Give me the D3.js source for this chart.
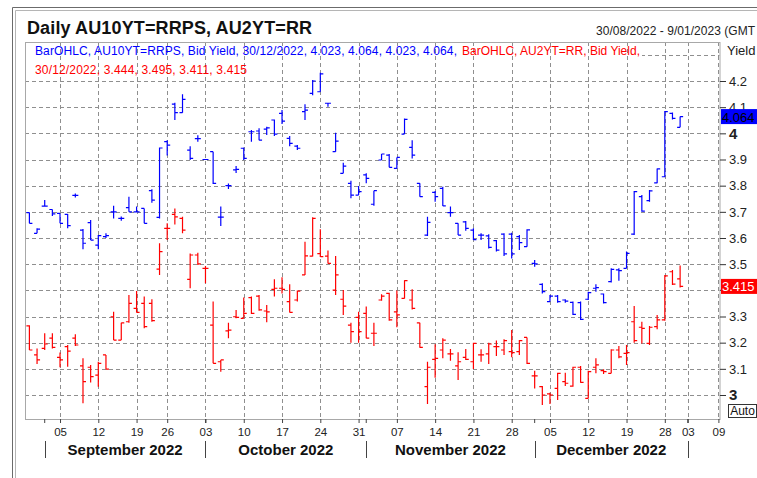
<!DOCTYPE html>
<html>
<head>
<meta charset="utf-8">
<script src="https://cdn.jsdelivr.net/npm/d3@7"></script>
<style>
  body { margin: 0; background: #fff; }
  svg { display: block; font-family: Arial, "Liberation Sans", sans-serif; }
</style>
</head>
<body>
<svg id="chart" width="757" height="478"></svg>
<script>
// trading calendar (weekdays, minus exchange holidays)
var firstDay = "2022-08-30";
var lastDay = "2023-01-09";
var holidays = ["2022-09-22", "2022-12-26", "2022-12-27", "2023-01-02"];

// y axis values (3.4 sits under the last-value badge, so it has no label)
var gridValues = [3.0, 3.1, 3.2, 3.3, 3.4, 3.5, 3.6, 3.7, 3.8, 3.9, 4.0, 4.1, 4.2, 4.3];
var labelValues = [3.0, 3.1, 3.2, 3.3, 3.5, 3.6, 3.7, 3.8, 3.9, 4.0, 4.1, 4.2];

// AU10YT=RRPS daily bid yield, [open, high, low, close]
var au10yt = [
  [3.697, 3.697, 3.656, 3.656], [3.618, 3.637, 3.618, 3.634], [3.722, 3.745, 3.720, 3.722], [3.709, 3.709, 3.684, 3.692],
  [3.694, 3.694, 3.656, 3.656], [3.690, 3.692, 3.637, 3.647], [3.763, 3.770, 3.755, 3.763], [3.630, 3.634, 3.557, 3.580],
  [3.659, 3.669, 3.592, 3.592], [3.573, 3.611, 3.557, 3.609], [3.605, 3.618, 3.600, 3.609], [3.700, 3.723, 3.675, 3.700],
  [3.675, 3.682, 3.666, 3.675], [3.716, 3.758, 3.700, 3.700], [3.700, 3.720, 3.697, 3.700], [3.713, 3.713, 3.656, 3.656],
  [3.781, 3.786, 3.735, 3.745], [3.679, 3.946, 3.675, 3.944], [3.968, 3.974, 3.915, 3.955], [4.112, 4.117, 4.051, 4.079],
  [4.079, 4.149, 4.079, 4.130], [3.936, 3.951, 3.898, 3.904], [3.980, 3.993, 3.968, 3.980], [3.900, 3.900, 3.898, 3.900],
  [3.930, 3.930, 3.806, 3.809], [3.680, 3.720, 3.646, 3.680], [3.800, 3.808, 3.787, 3.800], [3.860, 3.875, 3.848, 3.862],
  [3.943, 3.946, 3.898, 3.904], [4.006, 4.013, 3.968, 4.006], [4.009, 4.019, 3.974, 3.974], [4.016, 4.025, 3.994, 4.021],
  [4.051, 4.053, 3.990, 3.997], [4.076, 4.089, 4.036, 4.047], [3.981, 3.990, 3.951, 3.962], [3.951, 3.955, 3.936, 3.943],
  [4.083, 4.111, 4.051, 4.089], [4.153, 4.204, 4.146, 4.200], [4.159, 4.232, 4.159, 4.227], [4.115, 4.117, 4.102, 4.115],
  [3.930, 4.002, 3.930, 3.970], [3.847, 3.888, 3.847, 3.875], [3.809, 3.819, 3.752, 3.764], [3.764, 3.799, 3.764, 3.777],
  [3.841, 3.847, 3.809, 3.828], [3.729, 3.781, 3.723, 3.781], [3.898, 3.921, 3.898, 3.921], [3.917, 3.921, 3.870, 3.870],
  [3.866, 3.908, 3.866, 3.908], [3.997, 4.057, 3.997, 4.053], [3.946, 3.974, 3.904, 3.917], [3.809, 3.809, 3.758, 3.758],
  [3.611, 3.681, 3.608, 3.660], [3.774, 3.780, 3.739, 3.758], [3.790, 3.796, 3.722, 3.723], [3.697, 3.720, 3.681, 3.697],
  [3.656, 3.656, 3.611, 3.611], [3.662, 3.665, 3.628, 3.637], [3.630, 3.637, 3.592, 3.594], [3.611, 3.618, 3.592, 3.611],
  [3.608, 3.614, 3.560, 3.564], [3.590, 3.592, 3.548, 3.554], [3.615, 3.618, 3.531, 3.539], [3.615, 3.620, 3.522, 3.539],
  [3.605, 3.611, 3.554, 3.582], [3.567, 3.633, 3.567, 3.631], [3.503, 3.516, 3.490, 3.501], [3.423, 3.427, 3.388, 3.395],
  [3.357, 3.382, 3.357, 3.378], [3.378, 3.382, 3.353, 3.357], [3.363, 3.366, 3.353, 3.359], [3.354, 3.357, 3.306, 3.308],
  [3.353, 3.357, 3.287, 3.289], [3.366, 3.395, 3.363, 3.391], [3.408, 3.423, 3.395, 3.410], [3.386, 3.388, 3.350, 3.353],
  [3.433, 3.484, 3.430, 3.480], [3.478, 3.484, 3.437, 3.475], [3.484, 3.548, 3.484, 3.541], [3.615, 3.780, 3.611, 3.777],
  [3.758, 3.764, 3.700, 3.703], [3.743, 3.783, 3.739, 3.780], [3.811, 3.866, 3.809, 3.864], [3.834, 4.085, 3.832, 4.083],
  [4.076, 4.080, 4.053, 4.057], [4.023, 4.064, 4.023, 4.064]
];

// AU2YT=RR daily bid yield, [open, high, low, close]
var au2yt = [
  [3.264, 3.267, 3.172, 3.172], [3.153, 3.178, 3.118, 3.134], [3.178, 3.236, 3.172, 3.195], [3.217, 3.236, 3.178, 3.182],
  [3.144, 3.162, 3.106, 3.134], [3.185, 3.191, 3.108, 3.168], [3.217, 3.232, 3.187, 3.191], [3.111, 3.140, 2.968, 3.051],
  [3.106, 3.115, 3.048, 3.070], [3.076, 3.127, 3.032, 3.121], [3.153, 3.153, 3.098, 3.099], [3.299, 3.318, 3.210, 3.210],
  [3.210, 3.276, 3.210, 3.276], [3.280, 3.382, 3.276, 3.350], [3.331, 3.397, 3.315, 3.316], [3.350, 3.376, 3.255, 3.261],
  [3.350, 3.366, 3.280, 3.284], [3.481, 3.580, 3.459, 3.548], [3.637, 3.656, 3.592, 3.637], [3.690, 3.713, 3.652, 3.681],
  [3.675, 3.681, 3.618, 3.630], [3.442, 3.541, 3.408, 3.535], [3.535, 3.544, 3.497, 3.501], [3.484, 3.493, 3.427, 3.484],
  [3.267, 3.357, 3.121, 3.121], [3.127, 3.134, 3.089, 3.134], [3.245, 3.276, 3.217, 3.248], [3.299, 3.325, 3.293, 3.297],
  [3.293, 3.373, 3.293, 3.312], [3.372, 3.376, 3.310, 3.312], [3.378, 3.382, 3.322, 3.325], [3.321, 3.344, 3.278, 3.318],
  [3.404, 3.442, 3.376, 3.408], [3.408, 3.450, 3.388, 3.404], [3.357, 3.423, 3.315, 3.316], [3.363, 3.399, 3.357, 3.397],
  [3.459, 3.586, 3.459, 3.532], [3.531, 3.679, 3.529, 3.675], [3.540, 3.633, 3.527, 3.529], [3.531, 3.552, 3.503, 3.503],
  [3.401, 3.531, 3.382, 3.459], [3.366, 3.401, 3.306, 3.340], [3.267, 3.276, 3.200, 3.242], [3.297, 3.318, 3.200, 3.242],
  [3.312, 3.338, 3.217, 3.217], [3.236, 3.276, 3.187, 3.236], [3.363, 3.385, 3.360, 3.378], [3.388, 3.391, 3.284, 3.287],
  [3.318, 3.399, 3.259, 3.306], [3.369, 3.439, 3.369, 3.437], [3.363, 3.404, 3.327, 3.331], [3.276, 3.276, 3.181, 3.182],
  [3.032, 3.127, 2.966, 3.106], [3.136, 3.194, 3.066, 3.140], [3.172, 3.217, 3.140, 3.210], [3.157, 3.176, 3.131, 3.157],
  [3.111, 3.163, 3.057, 3.127], [3.144, 3.176, 3.134, 3.136], [3.127, 3.200, 3.099, 3.197], [3.153, 3.175, 3.127, 3.153],
  [3.157, 3.200, 3.118, 3.195], [3.185, 3.208, 3.149, 3.185], [3.172, 3.213, 3.153, 3.208], [3.166, 3.248, 3.144, 3.162],
  [3.166, 3.210, 3.153, 3.208], [3.220, 3.220, 3.118, 3.121], [3.073, 3.093, 3.025, 3.073], [3.032, 3.034, 2.962, 3.000],
  [3.004, 3.009, 2.966, 3.000], [3.025, 3.085, 2.981, 3.083], [3.051, 3.085, 3.034, 3.045], [3.034, 3.108, 3.032, 3.106],
  [3.106, 3.111, 3.047, 3.048], [2.987, 3.093, 2.987, 3.089], [3.106, 3.140, 3.083, 3.115], [3.093, 3.098, 3.080, 3.089],
  [3.083, 3.175, 3.083, 3.172], [3.172, 3.187, 3.140, 3.146], [3.159, 3.191, 3.115, 3.162], [3.280, 3.340, 3.200, 3.208],
  [3.259, 3.280, 3.197, 3.255], [3.197, 3.264, 3.191, 3.259], [3.261, 3.306, 3.251, 3.287], [3.287, 3.459, 3.284, 3.455],
  [3.471, 3.478, 3.420, 3.424], [3.444, 3.495, 3.411, 3.415]
];

var blue = "#0000ff";
var red = "#ff0000";
var gridColor = "#8f8f8f";

var plotLeft = 25, plotRight = 719.5, plotTop = 42, plotBottom = 419;

var svg = d3.select("#chart");

var parseDay = d3.timeParse("%Y-%m-%d");
var fmtDay = d3.timeFormat("%Y-%m-%d");
var days = d3.timeDay.range(parseDay(firstDay), d3.timeDay.offset(parseDay(lastDay), 1))
  .filter(d => d.getDay() !== 0 && d.getDay() !== 6 && holidays.indexOf(fmtDay(d)) < 0);
var keys = days.map(fmtDay);

var x = d3.scalePoint().domain(keys).range([29.4, 718.4]);
var y = d3.scaleLinear().domain([3.0, 4.2]).range([395, 81]);

// first trading day of each week / month
var weekStarts = days.filter((d, i) => i > 0 && +d3.timeMonday.floor(d) !== +d3.timeMonday.floor(days[i - 1]));
var monthStarts = days.filter((d, i) => i > 0 && d.getMonth() !== days[i - 1].getMonth());

// outer frame
svg.append("rect").attr("width", 757).attr("height", 478).attr("fill", "#fff");
svg.append("path").attr("d", "M12.5,478V7.5H757").attr("fill", "none").attr("stroke", "#6b6b6b");
svg.append("path").attr("d", "M15.5,478V10.5H757").attr("fill", "none").attr("stroke", "#b5b5b5");

svg.append("text")
  .attr("x", 27).attr("y", 33.5)
  .attr("font-size", 18).attr("font-weight", "bold").attr("fill", "#111")
  .attr("textLength", 285).attr("lengthAdjust", "spacing")
  .text("Daily AU10YT=RRPS, AU2YT=RR");

// date range, as far as it is visible in the window
svg.append("text")
  .attr("x", 596).attr("y", 35)
  .attr("font-size", 12).attr("fill", "#222")
  .attr("textLength", 159).attr("lengthAdjust", "spacing")
  .text("30/08/2022 - 9/01/2023 (GMT");

// horizontal grid
svg.append("g").selectAll("line").data(gridValues).join("line")
  .attr("x1", plotLeft).attr("x2", plotRight)
  .attr("y1", d => Math.round(y(d)) + 0.5).attr("y2", d => Math.round(y(d)) + 0.5)
  .attr("stroke", gridColor).attr("stroke-dasharray", "4,3");

// legend backing (hides the top grid line under the first legend row)
svg.append("rect").attr("x", 26).attr("y", 44).attr("width", 616).attr("height", 13).attr("fill", "#fff");

// vertical grid
svg.append("g").selectAll("line").data(weekStarts).join("line")
  .attr("x1", d => Math.round(x(fmtDay(d))) + 0.5).attr("x2", d => Math.round(x(fmtDay(d))) + 0.5)
  .attr("y1", plotTop).attr("y2", plotBottom)
  .attr("stroke", gridColor).attr("stroke-dasharray", "4,3");

svg.append("rect")
  .attr("x", plotLeft + 0.5).attr("y", plotTop + 0.5)
  .attr("width", plotRight - plotLeft).attr("height", plotBottom - plotTop)
  .attr("fill", "none").attr("stroke", "#a8a8a8");

function drawBars(data, color) {
  return svg.append("g")
    .attr("stroke", color).attr("stroke-width", 1.2).attr("fill", "none")
    .selectAll("path").data(data).join("path")
    .attr("d", (b, i) => {
      var cx = x(keys[i]);
      return "M" + cx + "," + y(b[1]) + "V" + y(b[2]) +
        "M" + (cx - 3) + "," + y(b[0]) + "H" + cx +
        "M" + cx + "," + y(b[3]) + "H" + (cx + 3);
    });
}
drawBars(au10yt, blue);
drawBars(au2yt, red);

// legend
svg.append("text").attr("x", 35).attr("y", 55).attr("font-size", 12).attr("fill", blue)
  .attr("textLength", 422).attr("lengthAdjust", "spacing")
  .text("BarOHLC, AU10YT=RRPS, Bid Yield, 30/12/2022, 4.023, 4.064, 4.023, 4.064,");
svg.append("text").attr("x", 462).attr("y", 55).attr("font-size", 12).attr("fill", red)
  .attr("textLength", 178).attr("lengthAdjust", "spacing")
  .text("BarOHLC, AU2YT=RR, Bid Yield,");
svg.append("text").attr("x", 35).attr("y", 73.5).attr("font-size", 12).attr("fill", red)
  .attr("textLength", 212).attr("lengthAdjust", "spacing")
  .text("30/12/2022, 3.444, 3.495, 3.411, 3.415");

// bottom axis: week ticks
var xAxis = svg.append("g")
  .attr("transform", "translate(0," + plotBottom + ")")
  .call(d3.axisBottom(x)
    .tickValues(weekStarts.map(fmtDay))
    .tickSize(4).tickPadding(5)
    .tickFormat(k => k.slice(8)));
xAxis.select(".domain").remove();
xAxis.selectAll("line").attr("stroke", "#444");
xAxis.selectAll("text").attr("font-size", 11.5).attr("fill", "#222").attr("font-family", null);

// month start marks on the axis
svg.append("g").selectAll("line").data(monthStarts).join("line")
  .attr("x1", d => x(fmtDay(d))).attr("x2", d => x(fmtDay(d)))
  .attr("y1", plotBottom).attr("y2", plotBottom + 4)
  .attr("stroke", "#444");

// month separators and labels
svg.append("g").selectAll("line").data(monthStarts).join("line")
  .attr("x1", d => Math.round(x(fmtDay(d))) + 0.5).attr("x2", d => Math.round(x(fmtDay(d))) + 0.5)
  .attr("y1", 441).attr("y2", 458)
  .attr("stroke", "#444");

svg.append("g").selectAll("text").data(monthStarts.slice(0, -1)).join("text")
  .attr("x", (d, i) => (x(fmtDay(d)) + x(fmtDay(monthStarts[i + 1]))) / 2)
  .attr("y", 454.5)
  .attr("text-anchor", "middle")
  .attr("font-size", 15).attr("font-weight", "bold").attr("fill", "#111")
  .text(d3.timeFormat("%B %Y"));

// right axis
var yAxis = svg.append("g")
  .attr("transform", "translate(" + (plotRight + 0.5) + ",0)")
  .call(d3.axisRight(y)
    .tickValues(labelValues)
    .tickSize(6).tickPadding(3)
    .tickFormat(d => d % 1 === 0 ? String(d) : d.toFixed(1)));
yAxis.select(".domain").remove();
yAxis.selectAll("line").attr("stroke", "#333");
yAxis.selectAll("text")
  .attr("font-family", null).attr("fill", "#222")
  .attr("font-size", d => d % 1 === 0 ? 15 : 13)
  .attr("font-weight", d => d % 1 === 0 ? "bold" : "normal");

// tick mark for the unlabelled 3.4 line
svg.append("line").attr("x1", plotRight + 0.5).attr("x2", plotRight + 6.5)
  .attr("y1", y(3.4)).attr("y2", y(3.4)).attr("stroke", "#333");

svg.append("text").attr("x", 727).attr("y", 55).attr("font-size", 13).attr("fill", "#222").text("Yield");

// last value badges
function badge(value, fill, textColor) {
  var cy = y(value);
  svg.append("rect").attr("x", 721).attr("y", cy - 7.5).attr("width", 36).attr("height", 15).attr("fill", fill);
  svg.append("text").attr("x", 722).attr("y", cy + 5).attr("font-size", 13).attr("fill", textColor)
    .text(value.toFixed(3));
}
badge(au10yt[au10yt.length - 1][3], blue, "#000");
badge(au2yt[au2yt.length - 1][3], red, "#fff");

// Auto button
svg.append("rect").attr("x", 728.5).attr("y", 404.5).attr("width", 28).attr("height", 13)
  .attr("fill", "#fff").attr("stroke", "#333");
svg.append("text").attr("x", 742.5).attr("y", 415).attr("text-anchor", "middle")
  .attr("font-size", 12).attr("fill", "#111").text("Auto");
</script>
</body>
</html>
